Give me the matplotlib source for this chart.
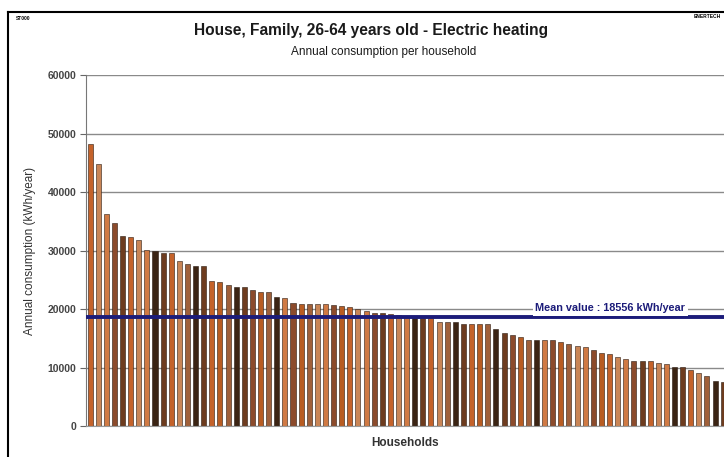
import matplotlib.pyplot as plt
from matplotlib.lines import Line2D

plt.rcParams['font.family'] = ['Liberation Sans', 'DejaVu Sans']

# consumption per household, sorted (kWh/year)
consumption = [48200, 44800, 36200, 34650, 32400, 32350, 31800, 30100, 29900, 29650,
               29500, 28250, 27650, 27400, 27400, 24800, 24550, 24150, 23800, 23800,
               23250, 22950, 22900, 22100, 21900, 21100, 20850, 20800, 20800, 20850,
               20750, 20500, 20300, 19950, 19650, 19350, 19250, 19100, 18950, 18700,
               18600, 18500, 18450, 17800, 17750, 17700, 17450, 17450, 17450, 17400,
               16550, 15950, 15600, 15150, 14700, 14700, 14700, 14700, 14350, 14000,
               13750, 13450, 13000, 12400, 12300, 11850, 11450, 11150, 11150, 11150,
               10800, 10550, 10150, 10150, 9550, 9000, 8550, 7750, 7600]
mean_value = 18556
yticks = [0, 10000, 20000, 30000, 40000, 50000, 60000]

palette = ['#c4622a', '#8c4b2c', '#3b2414', '#c98556', '#b85c22', '#6e3c1f', '#d07a44', '#a0603a']

fig = plt.figure(figsize=(7.24, 4.57), dpi=100)
ax = fig.add_axes([86 / 724, 1 - 426 / 457, 1 - 86 / 724, (426 - 75) / 457])

x = list(range(len(consumption)))
colors = [palette[(i * 3 + i // 4) % len(palette)] for i in x]
ax.bar(x, consumption, width=0.62, color=colors, edgecolor='#2a1a10', linewidth=0.4, zorder=2)

# mean line
ax.axhline(mean_value, color='#1c1c7a', linewidth=2.8, zorder=3)
ax.text(64.1, mean_value + 750, 'Mean value : %d kWh/year' % mean_value, color='#1c1c7a',
        fontsize=7.8, fontweight='bold', ha='center', va='bottom', zorder=4,
        bbox=dict(facecolor='white', edgecolor='none', pad=2))

ax.set_xlim(-0.5, 78.1)
ax.set_ylim(0, 60000)
ax.set_yticks(yticks)
ax.set_yticklabels([str(t) for t in yticks], fontsize=7.5, fontweight='bold', color='#444444')
ax.yaxis.grid(True, color='#8a8a8a', linewidth=1.0)
ax.set_axisbelow(True)
ax.tick_params(axis='y', length=4, color='#666666', pad=3)
ax.set_xticks([])
for s in ['top', 'right']:
    ax.spines[s].set_visible(False)
ax.spines['left'].set_color('#777777')
ax.spines['bottom'].set_color('#999999')

ax.set_ylabel('Annual consumption (kWh/year)', fontsize=8.5, color='#333333', labelpad=8)
ax.set_xlabel('Households', fontsize=8.5, fontweight='bold', color='#333333', labelpad=8)

fig.text(0.512, 1 - 30 / 457, 'House, Family, 26-64 years old - Electric heating',
         ha='center', va='center', fontsize=11.2, fontweight='bold', color='#1a1a1a')
fig.text(0.53, 1 - 52 / 457, 'Annual consumption per household',
         ha='center', va='center', fontsize=8.5, color='#1a1a1a')
fig.text(16 / 724, 1 - 18 / 457, 'ST000', fontsize=3.5, fontweight='bold', va='center')
fig.text(721 / 724, 1 - 17 / 457, 'ENERTECH', fontsize=3.5, fontweight='bold', va='center', ha='right')

# frame around the chart
fig.add_artist(Line2D([8 / 724, 8 / 724], [0, 1 - 12 / 457], color='black', linewidth=1.5))
fig.add_artist(Line2D([8 / 724, 1], [1 - 12 / 457, 1 - 12 / 457], color='black', linewidth=1.5))

fig.savefig('out.png', dpi=100)
